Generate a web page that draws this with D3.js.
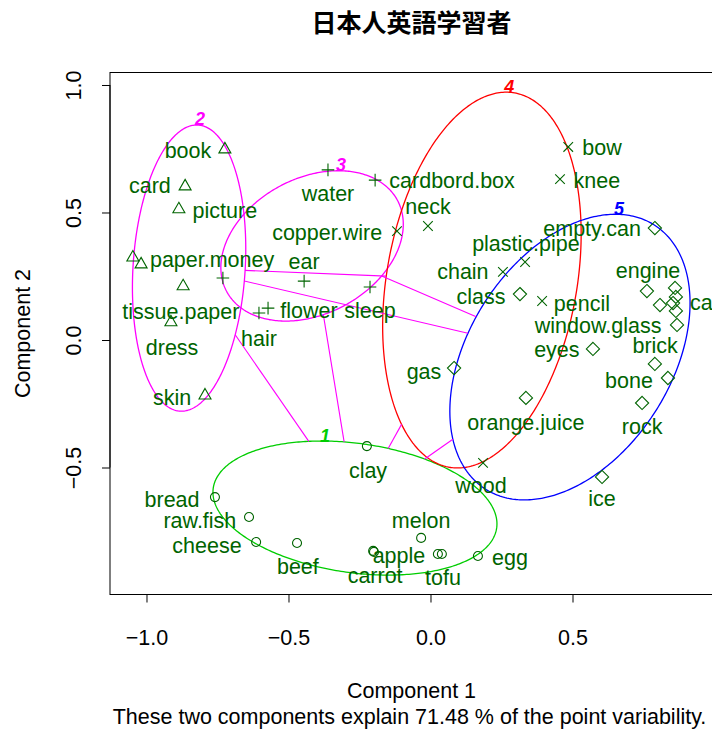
<!DOCTYPE html>
<html>
<head>
<meta charset="utf-8">
<script src="https://cdn.jsdelivr.net/npm/d3@7"></script>
<style>
  body { margin: 0; background: #fff; }
  svg text { font-family: "Liberation Sans", Arial, sans-serif; }
</style>
</head>
<body>
<svg id="chart" width="712" height="731"></svg>
<script>
// ---- cluster set-up -------------------------------------------------------
const clusterIds    = [1, 2, 3, 4, 5];
const clusterColors = ["#00CD00", "#FF00FF", "#FF00FF", "#FF0000", "#0000FF"];

// ellipse of each cluster: centre and two conjugate semi-axis vectors (data units)
const ellCx = [-0.266, -0.850, -0.417,  0.181,  0.491];
const ellCy = [-0.659,  0.282,  0.369,  0.235, -0.067];
const ellUx = [ 0.499,  0.0317, 0.301,  0.115,  0.297];
const ellUy = [-0.078,  0.561,  0.178,  0.734,  0.518];
const ellVx = [-0.0317, 0.197,  0.112,  0.330,  0.301];
const ellVy = [-0.251, -0.0137,-0.235, -0.064, -0.213];

// ---- objects (component scores) -----------------------------------------
const pointNames = [
  "clay","bread","raw.fish","cheese","beef","melon","apple","carrot","tofu","","egg",
  "book","card","picture","paper.money","","tissue.paper","dress","skin",
  "water","cardbord.box","ear","","sleep","flower","hair",
  "bow","knee","copper.wire","neck","plastic.pipe","chain","pencil","wood",
  "empty.can","class","gas","eyes","orange.juice","engine","","car","window.glass","","","",
  "brick","bone","rock","ice"
];
const pointCluster = [
  1,1,1,1,1,1,1,1,1,1,1,
  2,2,2,2,2,2,2,2,
  3,3,3,3,3,3,3,
  4,4,4,4,4,4,4,4,
  5,5,5,5,5,5,5,5,5,5,5,5,5,5,5,5
];
const pointX = [
  -0.224,-0.759,-0.639,-0.614,-0.470,-0.033,-0.202,-0.199, 0.040, 0.026, 0.167,
  -0.724,-0.864,-0.886,-1.048,-1.019,-0.871,-0.914,-0.794,
  -0.361,-0.195,-0.445,-0.731,-0.213,-0.572,-0.604,
   0.485, 0.456,-0.118,-0.009, 0.333, 0.255, 0.393, 0.185,
   0.790, 0.315, 0.083, 0.572, 0.336, 0.762, 0.861, 0.864, 0.808, 0.854, 0.864, 0.868,
   0.790, 0.836, 0.745, 0.604
];
const pointY = [
  -0.416,-0.616,-0.694,-0.792,-0.796,-0.776,-0.827,-0.831,-0.839,-0.839,-0.847,
   0.753, 0.608, 0.518, 0.329, 0.302, 0.216, 0.075,-0.212,
   0.667, 0.627, 0.231, 0.243, 0.208, 0.125, 0.106,
   0.757, 0.631, 0.427, 0.447, 0.306, 0.267, 0.153,-0.482,
   0.439, 0.180,-0.110,-0.035,-0.227, 0.192, 0.204, 0.169, 0.137, 0.145, 0.114, 0.059,
  -0.094,-0.149,-0.247,-0.537
];
// where each name is written (data units); null = no name written
const labelX = [
  -0.220,-0.910,-0.812,-0.787,-0.467,-0.033,-0.111,-0.195, 0.044, null, 0.280,
  -0.854,-0.988,-0.724,-0.769, null,-0.879,-0.910,-0.910,
  -0.361, 0.076,-0.445, null,-0.213,-0.428,-0.604,
   0.604, 0.586,-0.364,-0.009, 0.336, 0.114, 0.533, 0.178,
   0.569, 0.178,-0.023, 0.445, 0.336, 0.766, null, 0.966, 0.590, null, null, null,
   0.791, 0.699, 0.745, 0.604
];
const labelY = [
  -0.510,-0.624,-0.706,-0.804,-0.890,-0.706,-0.847,-0.922,-0.933, null,-0.851,
   0.745, 0.604, 0.506, 0.314, null, 0.110,-0.031,-0.224,
   0.576, 0.627, 0.306, null, 0.114, 0.114, 0.004,
   0.753, 0.627, 0.420, 0.522, 0.380, 0.267, 0.145,-0.569,
   0.439, 0.169,-0.122,-0.039,-0.325, 0.271, null, 0.149, 0.055, null, null, null,
  -0.020,-0.157,-0.341,-0.620
];

// ---- axes and texts -------------------------------------------------------
const xLimits = [-1.1285, 0.9947];
const yLimits = [-0.998, 1.049];
const xTicks = [-1.0, -0.5, 0.0, 0.5];
const yTicks = [-0.5, 0.0, 0.5, 1.0];
const titleText = "日本人英語学習者";
const xTitle = "Component 1";
const yTitle = "Component 2";
const subText = "These two components explain 71.48 % of the point variability.";

// ---- drawing --------------------------------------------------------------
const svg = d3.select("#chart");
const plot = { left: 110, right: 713, top: 72.5, bottom: 594.5 };
const x = d3.scaleLinear().domain(xLimits).range([plot.left, plot.right]);
const y = d3.scaleLinear().domain(yLimits).range([plot.bottom, plot.top]);
const FS = 21.5;
const ptCol = "#006400";

svg.append("rect").attr("width", 712).attr("height", 731).attr("fill", "#fff");

// ellipses
const nC = clusterIds.length;
const ellipsePixels = clusterIds.map((c, k) => d3.range(361).map(i => {
  const t = 2 * Math.PI * i / 360;
  return [x(ellCx[k] + ellUx[k] * Math.cos(t) + ellVx[k] * Math.sin(t)),
          y(ellCy[k] + ellUy[k] * Math.cos(t) + ellVy[k] * Math.sin(t))];
}));
const line = d3.line();
svg.append("g").selectAll("path").data(ellipsePixels).join("path")
  .attr("d", d => line(d) + "Z")
  .attr("fill", "none")
  .attr("stroke", (d, k) => clusterColors[k])
  .attr("stroke-width", 1.3);

// segments joining clusters whose ellipses stay apart along the centre line
function boundaryFrac(k, dx, dy) {
  const a = ellUx[k], b = ellVx[k], c = ellUy[k], d = ellVy[k];
  const det = a * d - b * c;
  const w1 = ( d * dx - b * dy) / det;
  const w2 = (-c * dx + a * dy) / det;
  return 1 / Math.hypot(w1, w2);
}
const segs = [];
for (let i = 0; i < nC; i++) for (let j = i + 1; j < nC; j++) {
  const dx = ellCx[j] - ellCx[i], dy = ellCy[j] - ellCy[i];
  const si = boundaryFrac(i, dx, dy), sj = boundaryFrac(j, dx, dy);
  if (si + sj < 1) {
    segs.push([[ellCx[i] + si * dx, ellCy[i] + si * dy],
               [ellCx[j] - sj * dx, ellCy[j] - sj * dy]]);
  }
}
svg.append("g").selectAll("line").data(segs).join("line")
  .attr("x1", d => x(d[0][0])).attr("y1", d => y(d[0][1]))
  .attr("x2", d => x(d[1][0])).attr("y2", d => y(d[1][1]))
  .attr("stroke", "#FF00FF").attr("stroke-width", 1.1);

// cluster numbers at the top of each ellipse
svg.append("g").selectAll("text").data(ellipsePixels).join("text")
  .attr("x", d => d3.least(d, p => p[1])[0] + 3)
  .attr("y", d => d3.least(d, p => p[1])[1] + 0.5)
  .attr("text-anchor", "middle")
  .attr("font-size", 18).attr("font-weight", "bold").attr("font-style", "italic")
  .attr("fill", (d, k) => clusterColors[k])
  .text((d, k) => clusterIds[k]);

// point symbols: 1 circle, 2 triangle, 3 plus, 4 cross, 5 diamond
const symbolPath = {
  1: "M4.5,0A4.5,4.5 0 1,1 -4.5,0A4.5,4.5 0 1,1 4.5,0Z",
  2: "M0,-5.6L6,4.9L-6,4.9Z",
  3: "M-6.3,0H6.3M0,-6.3V6.3",
  4: "M-4.8,-4.8L4.8,4.8M-4.8,4.8L4.8,-4.8",
  5: "M0,-6.6L6.6,0L0,6.6L-6.6,0Z"
};
const idx = d3.range(pointX.length);
svg.append("g").selectAll("path").data(idx).join("path")
  .attr("transform", i => `translate(${x(pointX[i])},${y(pointY[i])})`)
  .attr("d", i => symbolPath[pointCluster[i]])
  .attr("fill", "none").attr("stroke", ptCol).attr("stroke-width", 1.1);

// names
svg.append("g").selectAll("text").data(idx.filter(i => labelX[i] !== null)).join("text")
  .attr("x", i => x(labelX[i]))
  .attr("y", i => y(labelY[i]) + 7.5)
  .attr("text-anchor", "middle")
  .attr("font-size", FS).attr("fill", ptCol)
  .text(i => pointNames[i]);

// frame
svg.append("rect")
  .attr("x", plot.left).attr("y", plot.top)
  .attr("width", plot.right - plot.left).attr("height", plot.bottom - plot.top)
  .attr("fill", "none").attr("stroke", "#000").attr("stroke-width", 1);

// x axis
const gx = svg.append("g").attr("transform", `translate(0,${plot.bottom})`)
  .call(d3.axisBottom(x).tickValues(xTicks).tickFormat(d3.format(".1f")).tickSize(8).tickPadding(27));
gx.select(".domain").attr("d", `M${x(xTicks[0])},0H${x(xTicks[xTicks.length - 1])}`);
gx.selectAll("text").attr("font-size", FS).attr("font-family", null).attr("fill", "#000");
gx.selectAll("line").attr("stroke", "#000");

// y axis with upright-rotated labels
const gy = svg.append("g").attr("transform", `translate(${plot.left},0)`)
  .call(d3.axisLeft(y).tickValues(yTicks).tickFormat(d3.format(".1f")).tickSize(8));
gy.select(".domain").attr("d", `M0,${y(yTicks[0])}V${y(yTicks[yTicks.length - 1])}`);
gy.selectAll("text")
  .attr("x", null).attr("dy", null)
  .attr("text-anchor", "middle")
  .attr("transform", "translate(-29,0) rotate(-90)")
  .attr("font-size", FS).attr("font-family", null).attr("fill", "#000");
gy.selectAll("line").attr("stroke", "#000");

const midX = (plot.left + plot.right) / 2;
svg.append("text").attr("x", midX).attr("y", 31.5)
  .attr("text-anchor", "middle").attr("font-size", 25).attr("font-weight", "bold")
  .style("font-family", "'Noto Sans CJK JP', sans-serif")
  .text(titleText);
svg.append("text").attr("x", midX).attr("y", 697.5)
  .attr("text-anchor", "middle").attr("font-size", FS).text(xTitle);
svg.append("text").attr("x", midX - 2).attr("y", 723.5)
  .attr("text-anchor", "middle").attr("font-size", FS).text(subText);
svg.append("text")
  .attr("transform", `translate(30,${(plot.top + plot.bottom) / 2}) rotate(-90)`)
  .attr("text-anchor", "middle").attr("font-size", FS).text(yTitle);
</script>
</body>
</html>
